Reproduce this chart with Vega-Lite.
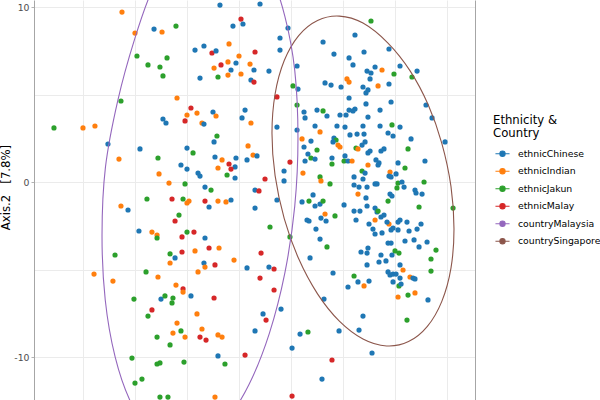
{
  "$schema": "https://vega.github.io/schema/vega-lite/v6.json",
  "width": 441,
  "height": 400,
  "autosize": {"type": "none"},
  "padding": {"left": 34, "top": 0, "right": 125, "bottom": 0},
  "background": "white",
  "config": {
    "font": "DejaVu Sans",
    "view": {"stroke": null},
    "axis": {"gridColor": "#ebebeb", "gridWidth": 1}
  },
  "datasets": {
    "samples": [
      {"axis1":-11.25,"axis2":9.71,"group":"ethnicIndian"},
      {"axis1":-10.0,"axis2":8.51,"group":"ethnicIndian"},
      {"axis1":-8.17,"axis2":8.74,"group":"ethnicChinese"},
      {"axis1":-7.4,"axis2":8.57,"group":"ethnicIndian"},
      {"axis1":-6.06,"axis2":8.91,"group":"ethnicJakun"},
      {"axis1":-9.81,"axis2":7.2,"group":"ethnicJakun"},
      {"axis1":-8.75,"axis2":6.69,"group":"ethnicJakun"},
      {"axis1":-7.6,"axis2":6.57,"group":"ethnicJakun"},
      {"axis1":-6.92,"axis2":7.09,"group":"ethnicJakun"},
      {"axis1":-7.31,"axis2":6.06,"group":"ethnicJakun"},
      {"axis1":-11.35,"axis2":4.63,"group":"ethnicJakun"},
      {"axis1":-5.96,"axis2":4.8,"group":"ethnicIndian"},
      {"axis1":-7.31,"axis2":3.6,"group":"ethnicChinese"},
      {"axis1":-7.02,"axis2":3.37,"group":"ethnicChinese"},
      {"axis1":-17.79,"axis2":3.09,"group":"ethnicJakun"},
      {"axis1":-15.0,"axis2":3.09,"group":"ethnicIndian"},
      {"axis1":-13.85,"axis2":3.2,"group":"ethnicIndian"},
      {"axis1":-1.83,"axis2":10.11,"group":"ethnicChinese"},
      {"axis1":2.02,"axis2":10.17,"group":"ethnicChinese"},
      {"axis1":0.19,"axis2":9.31,"group":"ethnicMalay"},
      {"axis1":0.38,"axis2":9.03,"group":"ethnicChinese"},
      {"axis1":-0.58,"axis2":8.91,"group":"ethnicChinese"},
      {"axis1":3.94,"axis2":8.23,"group":"ethnicChinese"},
      {"axis1":4.71,"axis2":8.8,"group":"ethnicChinese"},
      {"axis1":-0.96,"axis2":7.89,"group":"ethnicIndian"},
      {"axis1":-4.23,"axis2":7.54,"group":"ethnicChinese"},
      {"axis1":-3.37,"axis2":7.77,"group":"ethnicChinese"},
      {"axis1":-2.6,"axis2":7.37,"group":"ethnicMalay"},
      {"axis1":-2.21,"axis2":7.49,"group":"ethnicChinese"},
      {"axis1":1.54,"axis2":7.43,"group":"ethnicMalay"},
      {"axis1":3.94,"axis2":7.54,"group":"ethnicChinese"},
      {"axis1":0.0,"axis2":7.2,"group":"ethnicIndian"},
      {"axis1":-1.06,"axis2":6.86,"group":"ethnicIndian"},
      {"axis1":-1.73,"axis2":6.69,"group":"ethnicMalay"},
      {"axis1":-2.4,"axis2":6.51,"group":"ethnicIndian"},
      {"axis1":-0.29,"axis2":6.8,"group":"ethnicChinese"},
      {"axis1":1.06,"axis2":6.74,"group":"ethnicIndian"},
      {"axis1":-0.77,"axis2":6.4,"group":"ethnicChinese"},
      {"axis1":1.44,"axis2":6.4,"group":"ethnicChinese"},
      {"axis1":2.88,"axis2":6.34,"group":"ethnicChinese"},
      {"axis1":5.58,"axis2":6.63,"group":"ethnicChinese"},
      {"axis1":-3.75,"axis2":5.94,"group":"ethnicChinese"},
      {"axis1":-2.02,"axis2":6.0,"group":"ethnicJakun"},
      {"axis1":-1.06,"axis2":6.11,"group":"ethnicIndian"},
      {"axis1":0.19,"axis2":6.17,"group":"ethnicIndian"},
      {"axis1":1.15,"axis2":5.83,"group":"ethnicChinese"},
      {"axis1":1.44,"axis2":5.71,"group":"ethnicMalay"},
      {"axis1":8.27,"axis2":5.66,"group":"ethnicChinese"},
      {"axis1":5.19,"axis2":5.49,"group":"ethnicJakun"},
      {"axis1":5.67,"axis2":5.31,"group":"ethnicChinese"},
      {"axis1":3.65,"axis2":4.86,"group":"ethnicMalay"},
      {"axis1":5.58,"axis2":4.4,"group":"ethnicJakun"},
      {"axis1":-4.62,"axis2":4.23,"group":"ethnicMalay"},
      {"axis1":-5.0,"axis2":3.83,"group":"ethnicIndian"},
      {"axis1":-4.04,"axis2":3.94,"group":"ethnicIndian"},
      {"axis1":-2.5,"axis2":4.0,"group":"ethnicChinese"},
      {"axis1":0.58,"axis2":4.11,"group":"ethnicChinese"},
      {"axis1":-5.19,"axis2":3.49,"group":"ethnicMalay"},
      {"axis1":-2.21,"axis2":3.77,"group":"ethnicIndian"},
      {"axis1":0.29,"axis2":3.66,"group":"ethnicChinese"},
      {"axis1":-3.56,"axis2":3.37,"group":"ethnicIndian"},
      {"axis1":-3.37,"axis2":3.31,"group":"ethnicChinese"},
      {"axis1":1.15,"axis2":3.37,"group":"ethnicIndian"},
      {"axis1":3.65,"axis2":3.14,"group":"ethnicChinese"},
      {"axis1":5.58,"axis2":2.97,"group":"ethnicChinese"},
      {"axis1":6.25,"axis2":4.0,"group":"ethnicChinese"},
      {"axis1":6.35,"axis2":3.66,"group":"ethnicChinese"},
      {"axis1":7.5,"axis2":4.11,"group":"ethnicChinese"},
      {"axis1":8.08,"axis2":4.06,"group":"ethnicJakun"},
      {"axis1":7.31,"axis2":3.2,"group":"ethnicChinese"},
      {"axis1":8.46,"axis2":3.77,"group":"ethnicChinese"},
      {"axis1":7.79,"axis2":2.86,"group":"ethnicIndian"},
      {"axis1":8.08,"axis2":8.0,"group":"ethnicChinese"},
      {"axis1":12.69,"axis2":9.2,"group":"ethnicJakun"},
      {"axis1":11.15,"axis2":8.4,"group":"ethnicChinese"},
      {"axis1":9.13,"axis2":7.31,"group":"ethnicChinese"},
      {"axis1":12.02,"axis2":7.43,"group":"ethnicChinese"},
      {"axis1":10.58,"axis2":7.09,"group":"ethnicChinese"},
      {"axis1":14.42,"axis2":7.6,"group":"ethnicChinese"},
      {"axis1":10.96,"axis2":6.69,"group":"ethnicChinese"},
      {"axis1":12.31,"axis2":6.34,"group":"ethnicChinese"},
      {"axis1":12.69,"axis2":6.23,"group":"ethnicChinese"},
      {"axis1":13.08,"axis2":6.57,"group":"ethnicChinese"},
      {"axis1":13.75,"axis2":6.4,"group":"ethnicIndian"},
      {"axis1":14.9,"axis2":6.17,"group":"ethnicJakun"},
      {"axis1":15.48,"axis2":6.63,"group":"ethnicChinese"},
      {"axis1":16.63,"axis2":6.0,"group":"ethnicJakun"},
      {"axis1":17.12,"axis2":6.34,"group":"ethnicChinese"},
      {"axis1":10.38,"axis2":5.89,"group":"ethnicIndian"},
      {"axis1":10.58,"axis2":5.71,"group":"ethnicIndian"},
      {"axis1":8.85,"axis2":5.54,"group":"ethnicChinese"},
      {"axis1":9.81,"axis2":5.43,"group":"ethnicChinese"},
      {"axis1":12.6,"axis2":5.89,"group":"ethnicChinese"},
      {"axis1":11.92,"axis2":5.43,"group":"ethnicChinese"},
      {"axis1":12.4,"axis2":5.26,"group":"ethnicChinese"},
      {"axis1":12.21,"axis2":5.09,"group":"ethnicChinese"},
      {"axis1":13.37,"axis2":5.49,"group":"ethnicIndian"},
      {"axis1":14.42,"axis2":5.6,"group":"ethnicChinese"},
      {"axis1":10.58,"axis2":4.8,"group":"ethnicChinese"},
      {"axis1":14.62,"axis2":4.57,"group":"ethnicChinese"},
      {"axis1":12.21,"axis2":4.46,"group":"ethnicChinese"},
      {"axis1":13.56,"axis2":4.11,"group":"ethnicChinese"},
      {"axis1":17.98,"axis2":4.4,"group":"ethnicChinese"},
      {"axis1":18.56,"axis2":3.66,"group":"ethnicChinese"},
      {"axis1":10.58,"axis2":4.11,"group":"ethnicChinese"},
      {"axis1":11.15,"axis2":4.17,"group":"ethnicChinese"},
      {"axis1":10.96,"axis2":4.06,"group":"ethnicChinese"},
      {"axis1":9.71,"axis2":3.83,"group":"ethnicChinese"},
      {"axis1":10.29,"axis2":3.83,"group":"ethnicChinese"},
      {"axis1":12.4,"axis2":3.71,"group":"ethnicChinese"},
      {"axis1":9.42,"axis2":3.2,"group":"ethnicChinese"},
      {"axis1":10.19,"axis2":3.14,"group":"ethnicChinese"},
      {"axis1":11.92,"axis2":3.2,"group":"ethnicChinese"},
      {"axis1":13.56,"axis2":3.2,"group":"ethnicChinese"},
      {"axis1":14.71,"axis2":3.26,"group":"ethnicJakun"},
      {"axis1":15.48,"axis2":3.14,"group":"ethnicChinese"},
      {"axis1":-2.12,"axis2":2.63,"group":"ethnicJakun"},
      {"axis1":-2.4,"axis2":2.29,"group":"ethnicChinese"},
      {"axis1":-5.0,"axis2":1.94,"group":"ethnicChinese"},
      {"axis1":-4.42,"axis2":1.66,"group":"ethnicJakun"},
      {"axis1":-2.31,"axis2":1.43,"group":"ethnicChinese"},
      {"axis1":-1.63,"axis2":1.26,"group":"ethnicIndian"},
      {"axis1":-0.29,"axis2":1.37,"group":"ethnicChinese"},
      {"axis1":0.87,"axis2":2.06,"group":"ethnicIndian"},
      {"axis1":1.35,"axis2":1.54,"group":"ethnicIndian"},
      {"axis1":1.73,"axis2":1.49,"group":"ethnicChinese"},
      {"axis1":0.77,"axis2":1.26,"group":"ethnicChinese"},
      {"axis1":-0.96,"axis2":1.03,"group":"ethnicMalay"},
      {"axis1":-0.38,"axis2":0.86,"group":"ethnicChinese"},
      {"axis1":-0.77,"axis2":0.74,"group":"ethnicMalay"},
      {"axis1":-2.02,"axis2":0.8,"group":"ethnicIndian"},
      {"axis1":-1.15,"axis2":0.4,"group":"ethnicJakun"},
      {"axis1":-0.38,"axis2":0.23,"group":"ethnicChinese"},
      {"axis1":-5.0,"axis2":0.74,"group":"ethnicChinese"},
      {"axis1":-5.58,"axis2":0.97,"group":"ethnicChinese"},
      {"axis1":-3.94,"axis2":0.51,"group":"ethnicChinese"},
      {"axis1":-3.75,"axis2":0.34,"group":"ethnicChinese"},
      {"axis1":-5.19,"axis2":-0.11,"group":"ethnicJakun"},
      {"axis1":-3.27,"axis2":-0.29,"group":"ethnicChinese"},
      {"axis1":-2.69,"axis2":-0.46,"group":"ethnicJakun"},
      {"axis1":2.5,"axis2":0.17,"group":"ethnicMalay"},
      {"axis1":1.54,"axis2":-0.46,"group":"ethnicChinese"},
      {"axis1":1.92,"axis2":-0.51,"group":"ethnicMalay"},
      {"axis1":4.9,"axis2":1.14,"group":"ethnicMalay"},
      {"axis1":4.33,"axis2":0.63,"group":"ethnicChinese"},
      {"axis1":4.33,"axis2":0.06,"group":"ethnicChinese"},
      {"axis1":3.65,"axis2":-1.03,"group":"ethnicChinese"},
      {"axis1":-5.38,"axis2":-0.97,"group":"ethnicJakun"},
      {"axis1":-5.0,"axis2":-1.2,"group":"ethnicIndian"},
      {"axis1":-4.81,"axis2":-1.09,"group":"ethnicIndian"},
      {"axis1":-3.27,"axis2":-1.09,"group":"ethnicMalay"},
      {"axis1":-2.88,"axis2":-1.43,"group":"ethnicChinese"},
      {"axis1":-2.02,"axis2":-1.09,"group":"ethnicIndian"},
      {"axis1":-1.25,"axis2":-1.14,"group":"ethnicIndian"},
      {"axis1":-0.77,"axis2":-1.03,"group":"ethnicChinese"},
      {"axis1":1.54,"axis2":-1.49,"group":"ethnicChinese"},
      {"axis1":2.98,"axis2":-2.57,"group":"ethnicJakun"},
      {"axis1":4.9,"axis2":-3.14,"group":"ethnicJakun"},
      {"axis1":-5.0,"axis2":-2.86,"group":"ethnicJakun"},
      {"axis1":-4.33,"axis2":-2.86,"group":"ethnicMalay"},
      {"axis1":-5.48,"axis2":-3.14,"group":"ethnicMalay"},
      {"axis1":-3.27,"axis2":-3.2,"group":"ethnicChinese"},
      {"axis1":-4.23,"axis2":-3.94,"group":"ethnicIndian"},
      {"axis1":-2.88,"axis2":-3.77,"group":"ethnicMalay"},
      {"axis1":-1.92,"axis2":-3.77,"group":"ethnicIndian"},
      {"axis1":-5.48,"axis2":-4.0,"group":"ethnicMalay"},
      {"axis1":-0.48,"axis2":-4.46,"group":"ethnicIndian"},
      {"axis1":2.12,"axis2":-4.06,"group":"ethnicMalay"},
      {"axis1":-3.37,"axis2":-4.63,"group":"ethnicChinese"},
      {"axis1":-2.31,"axis2":-4.74,"group":"ethnicMalay"},
      {"axis1":6.06,"axis2":2.46,"group":"ethnicIndian"},
      {"axis1":6.92,"axis2":2.34,"group":"ethnicChinese"},
      {"axis1":6.25,"axis2":2.0,"group":"ethnicChinese"},
      {"axis1":7.5,"axis2":1.83,"group":"ethnicJakun"},
      {"axis1":6.63,"axis2":1.6,"group":"ethnicChinese"},
      {"axis1":6.92,"axis2":1.37,"group":"ethnicJakun"},
      {"axis1":6.35,"axis2":1.2,"group":"ethnicChinese"},
      {"axis1":7.31,"axis2":1.31,"group":"ethnicChinese"},
      {"axis1":6.15,"axis2":0.51,"group":"ethnicIndian"},
      {"axis1":7.79,"axis2":0.29,"group":"ethnicJakun"},
      {"axis1":7.88,"axis2":0.06,"group":"ethnicIndian"},
      {"axis1":7.12,"axis2":-0.74,"group":"ethnicChinese"},
      {"axis1":6.06,"axis2":-1.14,"group":"ethnicChinese"},
      {"axis1":6.73,"axis2":-1.09,"group":"ethnicJakun"},
      {"axis1":7.31,"axis2":-1.37,"group":"ethnicChinese"},
      {"axis1":7.79,"axis2":-1.26,"group":"ethnicChinese"},
      {"axis1":8.08,"axis2":-1.09,"group":"ethnicJakun"},
      {"axis1":8.27,"axis2":-1.83,"group":"ethnicIndian"},
      {"axis1":6.54,"axis2":-2.17,"group":"ethnicChinese"},
      {"axis1":6.73,"axis2":-2.23,"group":"ethnicChinese"},
      {"axis1":7.88,"axis2":-2.06,"group":"ethnicChinese"},
      {"axis1":8.37,"axis2":-2.23,"group":"ethnicChinese"},
      {"axis1":7.4,"axis2":-2.69,"group":"ethnicChinese"},
      {"axis1":7.79,"axis2":-3.26,"group":"ethnicChinese"},
      {"axis1":8.46,"axis2":-3.71,"group":"ethnicJakun"},
      {"axis1":6.83,"axis2":-4.34,"group":"ethnicChinese"},
      {"axis1":9.13,"axis2":2.51,"group":"ethnicChinese"},
      {"axis1":9.33,"axis2":2.4,"group":"ethnicJakun"},
      {"axis1":9.04,"axis2":2.29,"group":"ethnicChinese"},
      {"axis1":9.52,"axis2":2.11,"group":"ethnicIndian"},
      {"axis1":9.71,"axis2":2.0,"group":"ethnicIndian"},
      {"axis1":10.67,"axis2":2.69,"group":"ethnicChinese"},
      {"axis1":11.35,"axis2":2.74,"group":"ethnicChinese"},
      {"axis1":12.02,"axis2":2.74,"group":"ethnicChinese"},
      {"axis1":12.12,"axis2":2.29,"group":"ethnicChinese"},
      {"axis1":11.83,"axis2":2.11,"group":"ethnicChinese"},
      {"axis1":11.25,"axis2":1.94,"group":"ethnicJakun"},
      {"axis1":11.44,"axis2":1.89,"group":"ethnicIndian"},
      {"axis1":14.33,"axis2":2.8,"group":"ethnicChinese"},
      {"axis1":14.81,"axis2":2.63,"group":"ethnicChinese"},
      {"axis1":16.54,"axis2":2.46,"group":"ethnicChinese"},
      {"axis1":16.25,"axis2":1.89,"group":"ethnicJakun"},
      {"axis1":12.4,"axis2":1.66,"group":"ethnicChinese"},
      {"axis1":12.6,"axis2":1.77,"group":"ethnicChinese"},
      {"axis1":13.65,"axis2":1.77,"group":"ethnicChinese"},
      {"axis1":13.94,"axis2":1.89,"group":"ethnicChinese"},
      {"axis1":8.94,"axis2":1.37,"group":"ethnicChinese"},
      {"axis1":8.94,"axis2":1.03,"group":"ethnicJakun"},
      {"axis1":10.19,"axis2":1.49,"group":"ethnicChinese"},
      {"axis1":10.1,"axis2":1.2,"group":"ethnicJakun"},
      {"axis1":10.48,"axis2":1.2,"group":"ethnicChinese"},
      {"axis1":10.87,"axis2":1.2,"group":"ethnicIndian"},
      {"axis1":13.17,"axis2":1.26,"group":"ethnicChinese"},
      {"axis1":13.46,"axis2":1.09,"group":"ethnicChinese"},
      {"axis1":13.37,"axis2":0.97,"group":"ethnicChinese"},
      {"axis1":12.4,"axis2":0.97,"group":"ethnicIndian"},
      {"axis1":15.29,"axis2":1.09,"group":"ethnicChinese"},
      {"axis1":15.96,"axis2":0.8,"group":"ethnicJakun"},
      {"axis1":17.88,"axis2":1.2,"group":"ethnicChinese"},
      {"axis1":19.81,"axis2":2.29,"group":"ethnicChinese"},
      {"axis1":11.83,"axis2":0.63,"group":"ethnicJakun"},
      {"axis1":12.12,"axis2":0.51,"group":"ethnicChinese"},
      {"axis1":14.52,"axis2":0.57,"group":"ethnicIndian"},
      {"axis1":14.42,"axis2":0.34,"group":"ethnicChinese"},
      {"axis1":14.62,"axis2":0.29,"group":"ethnicChinese"},
      {"axis1":15.1,"axis2":0.46,"group":"ethnicChinese"},
      {"axis1":11.06,"axis2":0.29,"group":"ethnicChinese"},
      {"axis1":11.92,"axis2":0.17,"group":"ethnicChinese"},
      {"axis1":8.75,"axis2":-0.11,"group":"ethnicJakun"},
      {"axis1":11.06,"axis2":-0.17,"group":"ethnicChinese"},
      {"axis1":11.54,"axis2":-0.29,"group":"ethnicChinese"},
      {"axis1":12.31,"axis2":-0.29,"group":"ethnicChinese"},
      {"axis1":13.08,"axis2":-0.11,"group":"ethnicChinese"},
      {"axis1":13.27,"axis2":-0.11,"group":"ethnicChinese"},
      {"axis1":15.29,"axis2":-0.06,"group":"ethnicJakun"},
      {"axis1":15.19,"axis2":-0.34,"group":"ethnicJakun"},
      {"axis1":15.67,"axis2":0.0,"group":"ethnicChinese"},
      {"axis1":15.87,"axis2":-0.29,"group":"ethnicChinese"},
      {"axis1":17.79,"axis2":0.0,"group":"ethnicJakun"},
      {"axis1":16.92,"axis2":-0.46,"group":"ethnicChinese"},
      {"axis1":17.02,"axis2":-0.63,"group":"ethnicChinese"},
      {"axis1":17.6,"axis2":-0.69,"group":"ethnicChinese"},
      {"axis1":11.44,"axis2":-0.69,"group":"ethnicIndian"},
      {"axis1":14.52,"axis2":-0.69,"group":"ethnicChinese"},
      {"axis1":14.71,"axis2":-0.8,"group":"ethnicChinese"},
      {"axis1":12.21,"axis2":-0.91,"group":"ethnicChinese"},
      {"axis1":14.33,"axis2":-1.09,"group":"ethnicJakun"},
      {"axis1":10.1,"axis2":-1.31,"group":"ethnicChinese"},
      {"axis1":12.31,"axis2":-1.37,"group":"ethnicChinese"},
      {"axis1":17.31,"axis2":-1.43,"group":"ethnicJakun"},
      {"axis1":20.58,"axis2":-1.49,"group":"ethnicJakun"},
      {"axis1":11.06,"axis2":-1.66,"group":"ethnicChinese"},
      {"axis1":11.63,"axis2":-1.66,"group":"ethnicChinese"},
      {"axis1":13.08,"axis2":-1.49,"group":"ethnicChinese"},
      {"axis1":13.27,"axis2":-1.71,"group":"ethnicChinese"},
      {"axis1":13.37,"axis2":-1.66,"group":"ethnicJakun"},
      {"axis1":13.65,"axis2":-2.0,"group":"ethnicChinese"},
      {"axis1":13.94,"axis2":-1.89,"group":"ethnicChinese"},
      {"axis1":13.08,"axis2":-2.17,"group":"ethnicIndian"},
      {"axis1":11.25,"axis2":-2.17,"group":"ethnicChinese"},
      {"axis1":9.23,"axis2":-1.94,"group":"ethnicJakun"},
      {"axis1":12.5,"axis2":-2.4,"group":"ethnicChinese"},
      {"axis1":14.42,"axis2":-2.4,"group":"ethnicIndian"},
      {"axis1":14.23,"axis2":-2.29,"group":"ethnicChinese"},
      {"axis1":15.29,"axis2":-2.29,"group":"ethnicChinese"},
      {"axis1":15.48,"axis2":-2.17,"group":"ethnicChinese"},
      {"axis1":16.15,"axis2":-2.29,"group":"ethnicChinese"},
      {"axis1":14.81,"axis2":-2.63,"group":"ethnicChinese"},
      {"axis1":14.62,"axis2":-2.74,"group":"ethnicChinese"},
      {"axis1":15.29,"axis2":-2.74,"group":"ethnicChinese"},
      {"axis1":17.5,"axis2":-2.4,"group":"ethnicChinese"},
      {"axis1":17.12,"axis2":-2.69,"group":"ethnicChinese"},
      {"axis1":12.88,"axis2":-2.69,"group":"ethnicChinese"},
      {"axis1":13.08,"axis2":-2.97,"group":"ethnicChinese"},
      {"axis1":13.75,"axis2":-2.91,"group":"ethnicChinese"},
      {"axis1":16.35,"axis2":-2.8,"group":"ethnicChinese"},
      {"axis1":14.33,"axis2":-3.49,"group":"ethnicChinese"},
      {"axis1":14.62,"axis2":-3.49,"group":"ethnicChinese"},
      {"axis1":15.96,"axis2":-3.37,"group":"ethnicChinese"},
      {"axis1":16.83,"axis2":-3.31,"group":"ethnicChinese"},
      {"axis1":18.08,"axis2":-3.43,"group":"ethnicChinese"},
      {"axis1":17.31,"axis2":-3.71,"group":"ethnicChinese"},
      {"axis1":18.94,"axis2":-3.89,"group":"ethnicJakun"},
      {"axis1":11.73,"axis2":-4.0,"group":"ethnicChinese"},
      {"axis1":12.4,"axis2":-3.77,"group":"ethnicChinese"},
      {"axis1":12.31,"axis2":-4.06,"group":"ethnicChinese"},
      {"axis1":13.65,"axis2":-4.17,"group":"ethnicChinese"},
      {"axis1":15.0,"axis2":-3.94,"group":"ethnicJakun"},
      {"axis1":15.38,"axis2":-4.06,"group":"ethnicJakun"},
      {"axis1":14.71,"axis2":-4.17,"group":"ethnicChinese"},
      {"axis1":18.46,"axis2":-4.4,"group":"ethnicJakun"},
      {"axis1":13.46,"axis2":-4.57,"group":"ethnicChinese"},
      {"axis1":14.13,"axis2":-4.51,"group":"ethnicChinese"},
      {"axis1":12.31,"axis2":-4.74,"group":"ethnicChinese"},
      {"axis1":15.48,"axis2":-4.74,"group":"ethnicChinese"},
      {"axis1":9.04,"axis2":-5.2,"group":"ethnicChinese"},
      {"axis1":11.06,"axis2":-5.37,"group":"ethnicJakun"},
      {"axis1":11.44,"axis2":-5.71,"group":"ethnicChinese"},
      {"axis1":12.5,"axis2":-5.66,"group":"ethnicChinese"},
      {"axis1":10.48,"axis2":-6.0,"group":"ethnicChinese"},
      {"axis1":12.02,"axis2":-5.94,"group":"ethnicIndian"},
      {"axis1":14.33,"axis2":-5.14,"group":"ethnicChinese"},
      {"axis1":14.52,"axis2":-5.31,"group":"ethnicChinese"},
      {"axis1":14.81,"axis2":-5.26,"group":"ethnicChinese"},
      {"axis1":15.1,"axis2":-5.26,"group":"ethnicChinese"},
      {"axis1":15.48,"axis2":-5.49,"group":"ethnicChinese"},
      {"axis1":15.77,"axis2":-5.03,"group":"ethnicIndian"},
      {"axis1":14.81,"axis2":-5.71,"group":"ethnicChinese"},
      {"axis1":15.38,"axis2":-5.94,"group":"ethnicJakun"},
      {"axis1":15.58,"axis2":-5.83,"group":"ethnicChinese"},
      {"axis1":16.44,"axis2":-5.43,"group":"ethnicIndian"},
      {"axis1":16.73,"axis2":-5.49,"group":"ethnicChinese"},
      {"axis1":16.92,"axis2":-5.54,"group":"ethnicChinese"},
      {"axis1":18.46,"axis2":-5.09,"group":"ethnicJakun"},
      {"axis1":16.25,"axis2":-6.46,"group":"ethnicJakun"},
      {"axis1":16.92,"axis2":-6.34,"group":"ethnicIndian"},
      {"axis1":15.29,"axis2":-6.57,"group":"ethnicIndian"},
      {"axis1":18.17,"axis2":-6.74,"group":"ethnicChinese"},
      {"axis1":16.15,"axis2":-7.89,"group":"ethnicJakun"},
      {"axis1":11.92,"axis2":-7.66,"group":"ethnicChinese"},
      {"axis1":9.62,"axis2":-8.51,"group":"ethnicChinese"},
      {"axis1":11.54,"axis2":-8.46,"group":"ethnicChinese"},
      {"axis1":12.79,"axis2":-9.77,"group":"ethnicChinese"},
      {"axis1":8.94,"axis2":-10.17,"group":"ethnicMalay"},
      {"axis1":-3.94,"axis2":-5.14,"group":"ethnicIndian"},
      {"axis1":-3.27,"axis2":-4.86,"group":"ethnicIndian"},
      {"axis1":0.77,"axis2":-4.91,"group":"ethnicChinese"},
      {"axis1":2.88,"axis2":-4.86,"group":"ethnicChinese"},
      {"axis1":3.37,"axis2":-4.97,"group":"ethnicMalay"},
      {"axis1":2.02,"axis2":-5.49,"group":"ethnicMalay"},
      {"axis1":3.37,"axis2":-6.17,"group":"ethnicMalay"},
      {"axis1":-5.38,"axis2":-6.11,"group":"ethnicMalay"},
      {"axis1":-5.38,"axis2":-6.29,"group":"ethnicIndian"},
      {"axis1":-4.62,"axis2":-6.51,"group":"ethnicChinese"},
      {"axis1":-2.4,"axis2":-6.63,"group":"ethnicMalay"},
      {"axis1":-4.04,"axis2":-7.54,"group":"ethnicIndian"},
      {"axis1":2.31,"axis2":-7.54,"group":"ethnicChinese"},
      {"axis1":4.04,"axis2":-7.26,"group":"ethnicChinese"},
      {"axis1":2.6,"axis2":-7.89,"group":"ethnicMalay"},
      {"axis1":8.17,"axis2":-6.69,"group":"ethnicChinese"},
      {"axis1":-3.56,"axis2":-8.4,"group":"ethnicIndian"},
      {"axis1":-5.58,"axis2":-8.51,"group":"ethnicJakun"},
      {"axis1":-5.19,"axis2":-8.86,"group":"ethnicIndian"},
      {"axis1":-3.75,"axis2":-8.86,"group":"ethnicMalay"},
      {"axis1":-3.17,"axis2":-9.03,"group":"ethnicMalay"},
      {"axis1":-2.02,"axis2":-8.74,"group":"ethnicIndian"},
      {"axis1":-1.63,"axis2":-8.86,"group":"ethnicIndian"},
      {"axis1":1.54,"axis2":-8.51,"group":"ethnicChinese"},
      {"axis1":5.87,"axis2":-8.69,"group":"ethnicChinese"},
      {"axis1":6.63,"axis2":-8.57,"group":"ethnicJakun"},
      {"axis1":5.1,"axis2":-9.49,"group":"ethnicChinese"},
      {"axis1":-2.02,"axis2":-9.94,"group":"ethnicChinese"},
      {"axis1":-5.29,"axis2":-10.29,"group":"ethnicJakun"},
      {"axis1":-1.35,"axis2":-10.4,"group":"ethnicJakun"},
      {"axis1":0.58,"axis2":-9.89,"group":"ethnicMalay"},
      {"axis1":7.98,"axis2":-11.26,"group":"ethnicChinese"},
      {"axis1":-2.31,"axis2":-12.29,"group":"ethnicIndian"},
      {"axis1":5.1,"axis2":-12.23,"group":"ethnicMalay"},
      {"axis1":-12.6,"axis2":2.17,"group":"ethnicChinese"},
      {"axis1":-9.52,"axis2":1.89,"group":"ethnicChinese"},
      {"axis1":-11.54,"axis2":1.31,"group":"ethnicIndian"},
      {"axis1":-7.79,"axis2":1.37,"group":"ethnicJakun"},
      {"axis1":-7.69,"axis2":0.46,"group":"ethnicIndian"},
      {"axis1":-6.73,"axis2":-0.06,"group":"ethnicIndian"},
      {"axis1":-8.85,"axis2":-0.97,"group":"ethnicJakun"},
      {"axis1":-6.44,"axis2":-0.97,"group":"ethnicMalay"},
      {"axis1":-11.35,"axis2":-1.37,"group":"ethnicIndian"},
      {"axis1":-10.67,"axis2":-1.6,"group":"ethnicChinese"},
      {"axis1":-5.77,"axis2":-1.89,"group":"ethnicJakun"},
      {"axis1":-6.15,"axis2":-2.23,"group":"ethnicMalay"},
      {"axis1":-9.62,"axis2":-2.8,"group":"ethnicChinese"},
      {"axis1":-8.37,"axis2":-2.86,"group":"ethnicIndian"},
      {"axis1":-7.88,"axis2":-3.03,"group":"ethnicIndian"},
      {"axis1":-7.88,"axis2":-3.2,"group":"ethnicJakun"},
      {"axis1":-6.63,"axis2":-4.11,"group":"ethnicJakun"},
      {"axis1":-6.15,"axis2":-4.34,"group":"ethnicChinese"},
      {"axis1":-6.63,"axis2":-4.63,"group":"ethnicIndian"},
      {"axis1":-11.92,"axis2":-4.17,"group":"ethnicJakun"},
      {"axis1":-8.94,"axis2":-5.14,"group":"ethnicJakun"},
      {"axis1":-13.94,"axis2":-5.26,"group":"ethnicIndian"},
      {"axis1":-12.12,"axis2":-5.66,"group":"ethnicIndian"},
      {"axis1":-7.79,"axis2":-5.43,"group":"ethnicIndian"},
      {"axis1":-6.06,"axis2":-5.89,"group":"ethnicIndian"},
      {"axis1":-10.1,"axis2":-6.69,"group":"ethnicJakun"},
      {"axis1":-7.5,"axis2":-6.69,"group":"ethnicChinese"},
      {"axis1":-7.12,"axis2":-6.51,"group":"ethnicJakun"},
      {"axis1":-6.35,"axis2":-6.63,"group":"ethnicJakun"},
      {"axis1":-6.44,"axis2":-6.91,"group":"ethnicJakun"},
      {"axis1":-8.37,"axis2":-7.31,"group":"ethnicMalay"},
      {"axis1":-8.75,"axis2":-7.66,"group":"ethnicJakun"},
      {"axis1":-5.96,"axis2":-8.06,"group":"ethnicIndian"},
      {"axis1":-6.35,"axis2":-8.63,"group":"ethnicIndian"},
      {"axis1":-7.88,"axis2":-8.86,"group":"ethnicJakun"},
      {"axis1":-6.63,"axis2":-9.31,"group":"ethnicJakun"},
      {"axis1":-10.29,"axis2":-10.06,"group":"ethnicJakun"},
      {"axis1":-7.88,"axis2":-10.4,"group":"ethnicJakun"},
      {"axis1":-7.6,"axis2":-10.34,"group":"ethnicJakun"},
      {"axis1":-10.0,"axis2":-11.49,"group":"ethnicJakun"},
      {"axis1":-9.33,"axis2":-11.26,"group":"ethnicJakun"},
      {"axis1":-7.6,"axis2":-12.29,"group":"ethnicJakun"},
      {"axis1":-6.83,"axis2":-12.29,"group":"ethnicJakun"}
    ],
    "ellipses": [
      {"group":"countrySingapore","step":0,"axis1":20.67,"axis2":-2.68},
      {"group":"countrySingapore","step":1,"axis1":20.38,"axis2":-4.92},
      {"group":"countrySingapore","step":2,"axis1":19.5,"axis2":-6.82},
      {"group":"countrySingapore","step":3,"axis1":18.11,"axis2":-8.25},
      {"group":"countrySingapore","step":4,"axis1":16.3,"axis2":-9.12},
      {"group":"countrySingapore","step":5,"axis1":14.19,"axis2":-9.37},
      {"group":"countrySingapore","step":6,"axis1":11.92,"axis2":-8.97},
      {"group":"countrySingapore","step":7,"axis1":9.65,"axis2":-7.95},
      {"group":"countrySingapore","step":8,"axis1":7.55,"axis2":-6.39},
      {"group":"countrySingapore","step":9,"axis1":5.74,"axis2":-4.39},
      {"group":"countrySingapore","step":10,"axis1":4.35,"axis2":-2.09},
      {"group":"countrySingapore","step":11,"axis1":3.47,"axis2":0.36},
      {"group":"countrySingapore","step":12,"axis1":3.17,"axis2":2.79},
      {"group":"countrySingapore","step":13,"axis1":3.47,"axis2":5.03},
      {"group":"countrySingapore","step":14,"axis1":4.35,"axis2":6.94},
      {"group":"countrySingapore","step":15,"axis1":5.74,"axis2":8.37},
      {"group":"countrySingapore","step":16,"axis1":7.55,"axis2":9.23},
      {"group":"countrySingapore","step":17,"axis1":9.65,"axis2":9.48},
      {"group":"countrySingapore","step":18,"axis1":11.92,"axis2":9.08},
      {"group":"countrySingapore","step":19,"axis1":14.3,"axis2":7.95},
      {"group":"countrySingapore","step":20,"axis1":16.45,"axis2":6.35},
      {"group":"countrySingapore","step":21,"axis1":18.2,"axis2":4.4},
      {"group":"countrySingapore","step":22,"axis1":19.5,"axis2":2.21},
      {"group":"countrySingapore","step":23,"axis1":20.38,"axis2":-0.25},
      {"group":"countryMalaysia","step":0,"axis1":5.67,"axis2":2.51},
      {"group":"countryMalaysia","step":1,"axis1":5.36,"axis2":-1.38},
      {"group":"countryMalaysia","step":2,"axis1":4.41,"axis2":-5.19},
      {"group":"countryMalaysia","step":3,"axis1":2.91,"axis2":-8.66},
      {"group":"countryMalaysia","step":4,"axis1":0.96,"axis2":-11.57},
      {"group":"countryMalaysia","step":5,"axis1":-1.31,"axis2":-13.7},
      {"group":"countryMalaysia","step":6,"axis1":-3.75,"axis2":-14.92},
      {"group":"countryMalaysia","step":7,"axis1":-6.19,"axis2":-15.14},
      {"group":"countryMalaysia","step":8,"axis1":-8.46,"axis2":-14.34},
      {"group":"countryMalaysia","step":9,"axis1":-10.41,"axis2":-12.58},
      {"group":"countryMalaysia","step":10,"axis1":-11.91,"axis2":-9.99},
      {"group":"countryMalaysia","step":11,"axis1":-12.86,"axis2":-6.74},
      {"group":"countryMalaysia","step":12,"axis1":-13.17,"axis2":-3.03},
      {"group":"countryMalaysia","step":13,"axis1":-12.84,"axis2":0.85},
      {"group":"countryMalaysia","step":14,"axis1":-11.65,"axis2":4.67},
      {"group":"countryMalaysia","step":15,"axis1":-10.05,"axis2":8.14},
      {"group":"countryMalaysia","step":16,"axis1":-8.3,"axis2":11.04},
      {"group":"countryMalaysia","step":17,"axis1":-6.19,"axis2":13.18},
      {"group":"countryMalaysia","step":18,"axis1":-3.75,"axis2":14.39},
      {"group":"countryMalaysia","step":19,"axis1":-1.31,"axis2":14.62},
      {"group":"countryMalaysia","step":20,"axis1":0.96,"axis2":13.82},
      {"group":"countryMalaysia","step":21,"axis1":2.91,"axis2":12.06},
      {"group":"countryMalaysia","step":22,"axis1":4.41,"axis2":9.47},
      {"group":"countryMalaysia","step":23,"axis1":5.36,"axis2":6.38}
    ]
  },
  "resolve": {"scale": {"y": "independent"}, "axis": {"y": "independent"}},
  "layer": [
    {
      "data": {"name": "samples"},
      "mark": {"type": "circle", "size": 27, "opacity": 1, "clip": true},
      "encoding": {
        "x": {"field": "axis1", "type": "quantitative",
          "scale": {"domain": [-19.71, 22.69], "nice": false, "zero": false},
          "axis": {"values": [-15,-10,-5,0,5,10,15,20], "labels": false, "ticks": false, "domain": false, "title": null, "grid": true}},
        "y": {"field": "axis2", "type": "quantitative",
          "scale": {"domain": [-12.457, 10.4], "nice": false, "zero": false},
          "axis": {"values": [-10,-5,0,5,10], "grid": true, "title": "Axis.2\u00a0\u00a0\u00a0[7.8%]",
            "titleFontSize": 11.7, "titleFontWeight": "normal", "titleColor": "black", "titlePadding": 2, "titleY": 187,
            "labelExpr": "datum.value % 10 === 0 ? (datum.value < 0 ? '-' + abs(datum.value) : '' + datum.value) : ''",
            "labelFontSize": 9.3, "labelColor": "#4d4d4d", "labelPadding": 2,
            "tickSize": 3, "tickColor": "#b3b3b3",
            "tickOpacity": {"condition": {"test": "datum.value % 10 === 0", "value": 1}, "value": 0},
            "domain": true, "domainColor": "#a6a6a6", "domainWidth": 1}},
        "color": {"field": "group", "type": "nominal",
          "scale": {"domain": ["ethnicChinese","ethnicIndian","ethnicJakun","ethnicMalay","countryMalaysia","countrySingapore"],
                    "range": ["#1f77b4","#ff7f0e","#2ca02c","#d62728","#9467bd","#8c564b"]},
          "legend": {"orient": "none", "legendX": 459, "legendY": 115, "direction": "vertical",
            "title": ["Ethnicity &", "Country"], "titleFontSize": 11.7, "titleFontWeight": "normal", "titleColor": "black",
            "titleLineHeight": 13, "titlePadding": 4.5,
            "labelFontSize": 9.3, "labelColor": "black", "labelOffset": 6,
            "symbolType": "M-0.8,0H0.8M-0.3,0A0.3,0.3 0 1,0 0.3,0A0.3,0.3 0 1,0 -0.3,0Z",
            "symbolSize": 310, "symbolStrokeWidth": 1.1, "rowPadding": 2.5, "padding": 0,
            "encode": {"symbols": {"update": {"fill": {"scale": "color", "field": "value"}, "stroke": {"scale": "color", "field": "value"}, "opacity": {"value": 1}}}}}}
      }
    },
    {
      "data": {"name": "ellipses"},
      "mark": {"type": "line", "interpolate": "cardinal-closed", "strokeWidth": 1.1, "clip": true},
      "encoding": {
        "x": {"field": "axis1", "type": "quantitative",
          "scale": {"domain": [-19.71, 22.69], "nice": false, "zero": false},
          "axis": {"values": [-15,-10,-5,0,5,10,15,20], "labels": false, "ticks": false, "domain": false, "title": null, "grid": true}},
        "y": {"field": "axis2", "type": "quantitative",
          "scale": {"domain": [-12.457, 10.4], "nice": false, "zero": false},
          "axis": {"orient": "right", "labels": false, "ticks": false, "grid": false, "title": null, "domain": true, "domainColor": "#a6a6a6", "domainWidth": 1}},
        "color": {"field": "group", "type": "nominal", "legend": null},
        "order": {"field": "step", "type": "quantitative"}
      }
    }
  ]
}
